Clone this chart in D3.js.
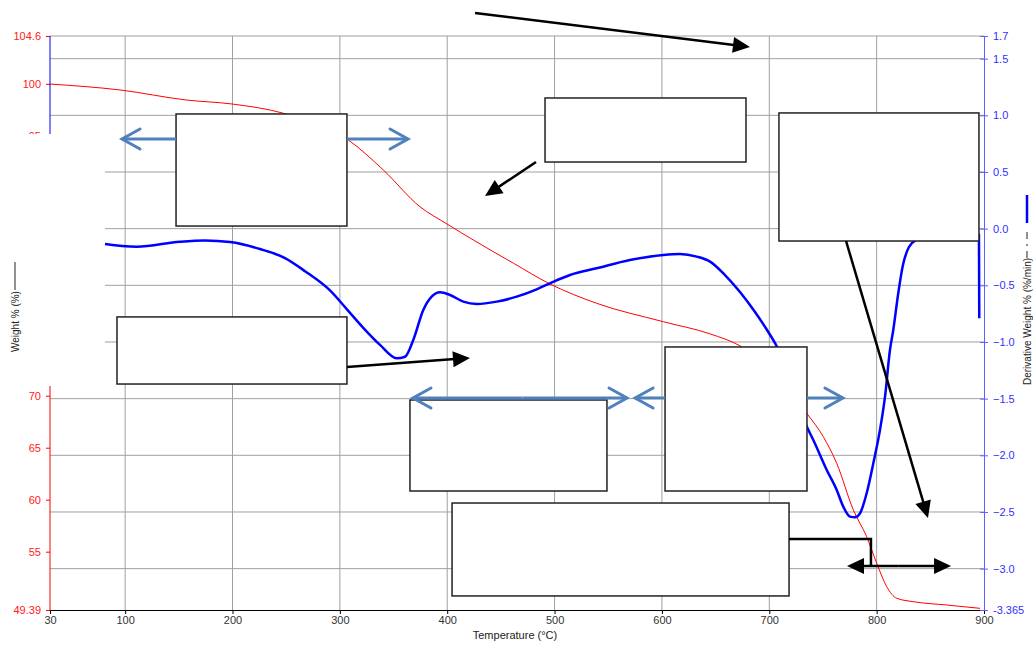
<!DOCTYPE html>
<html>
<head>
<meta charset="utf-8">
<script src="https://cdn.jsdelivr.net/npm/d3@7"></script>
<style>
  body { margin: 0; background: #fff; }
  text { font-family: "Liberation Sans", Arial, sans-serif; }
</style>
</head>
<body>
<div id="chart"></div>
<script>
const width = 1033;
const height = 646;

// weight curve (temperature °C, weight %)
var wTemp = [30, 95.2, 157.3, 199.5, 247.3, 307.9, 340.5, 374.6, 399.8, 424.3, 461.6, 495.7, 539.2, 601.3,
  644.8, 672.7, 705.3, 734.9, 750.3, 762.8, 778.3, 790.7, 800.1, 809.4, 818.7, 834.1, 865.3, 896.3];
var wValue = [99.98, 99.41, 98.44, 98.06, 97.17, 94.6, 91.71, 88.18, 86.52, 84.98, 82.75, 80.75, 78.89, 77.12,
  75.95, 74.8, 72.28, 68.31, 66.06, 63.5, 59.01, 56.44, 53.88, 51.63, 50.52, 50.19, 49.87, 49.55];

// derivative curve (temperature °C, %/min)
var dTemp = [78, 110.8, 151.1, 174.4, 197.7, 225.6, 248.9, 267.5, 290.8, 306.4, 321.8, 337.4, 352.9, 360.7,
  368.4, 377.7, 385.5, 393.3, 402.6, 415, 427.5, 446.1, 464.7, 483.3, 495.7, 514.4, 539.2, 570.2, 601.3,
  616.8, 632.4, 644.8, 658.7, 672.7, 686.7, 697.9, 707.2, 734.9, 741, 753.5, 762.8, 768.9, 775.2, 779.8,
  784.5, 790.7, 796.9, 803.1, 807.8, 812.4, 815.5, 819.9, 824.5, 830.1, 836.7, 849.7, 895.3, 895.6];
var dValue = [-0.13, -0.159, -0.115, -0.104, -0.118, -0.18, -0.26, -0.375, -0.545, -0.71, -0.875, -1.026, -1.144, -1.13,
  -0.982, -0.718, -0.6, -0.562, -0.585, -0.644, -0.665, -0.644, -0.6, -0.535, -0.482, -0.409, -0.35, -0.277, -0.232,
  -0.224, -0.247, -0.291, -0.409, -0.559, -0.735, -0.894, -1.042, -1.747, -1.865, -2.129, -2.306, -2.453, -2.541, -2.547,
  -2.512, -2.335, -2.07, -1.777, -1.483, -1.071, -0.894, -0.585, -0.321, -0.162, -0.1, -0.065, -0.056, -0.79];

var xTicks = [30, 100, 200, 300, 400, 500, 600, 700, 800, 900];
var leftTicks = [104.6, 100, 95, 90, 85, 80, 75, 70, 65, 60, 55, 49.39];
var rightTicks = [1.7, 1.5, 1.0, 0.5, 0.0, -0.5, -1.0, -1.5, -2.0, -2.5, -3.0, -3.365];

// annotation boxes, in temperature / derivative units
var boxes = [
  {t0: 147.4, t1: 306.6, d0: 1.012, d1: 0.023},
  {t0: 491.1, t1: 678.3, d0: 1.153, d1: 0.588},
  {t0: 709, t1: 895.3, d0: 1.021, d1: -0.109},
  {t0: 92.4, t1: 306.6, d0: -0.779, d1: -1.371},
  {t0: 365.3, t1: 548.8, d0: -1.512, d1: -2.315},
  {t0: 602.9, t1: 735.1, d0: -1.044, d1: -2.315},
  {t0: 404.5, t1: 718.4, d0: -2.421, d1: -3.241}
];

// black pointer arrows
var blackArrows = [
  {t0: 425.9, d0: 1.903, t1: 682, d1: 1.603},
  {t0: 482.7, d0: 0.588, t1: 435.2, d1: 0.288},
  {t0: 306.6, d0: -1.221, t1: 421.2, d1: -1.141},
  {t0: 771.5, d0: -0.109, t1: 847.8, d1: -2.553},
  {t0: 820, d0: -2.977, t1: 772.4, d1: -2.977},
  {t0: 820, d0: -2.977, t1: 869.3, d1: -2.977}
];

// blue range arrows (open heads)
var blueArrows = [
  {t0: 147.4, t1: 97.1, d: 0.791},
  {t0: 306.6, t1: 363.5, d: 0.791},
  {t0: 470, t1: 368.1, d: -1.494},
  {t0: 470, t1: 567.5, d: -1.494},
  {t0: 602.9, t1: 575, d: -1.494},
  {t0: 735.1, t1: 768.6, d: -1.494}
];

var svg = d3.select("#chart").append("svg")
  .attr("width", width).attr("height", height);

var x = d3.scaleLinear().domain([30, 900]).range([50, 984]);
var yL = d3.scaleLinear().domain([49.39, 104.6]).range([610, 36]);
var yR = d3.scaleLinear().domain([-3.365, 1.7]).range([610, 36]);

// grid
svg.append("g").selectAll("line").data(rightTicks.slice(0, -1)).enter().append("line")
  .attr("x1", 50).attr("x2", 984)
  .attr("y1", (d) => yR(d)).attr("y2", (d) => yR(d))
  .attr("stroke", "#a0a0a0").attr("stroke-width", 1);
svg.append("g").selectAll("line").data(xTicks.slice(1, -1)).enter().append("line")
  .attr("x1", (d) => x(d)).attr("x2", (d) => x(d))
  .attr("y1", 36).attr("y2", 610)
  .attr("stroke", "#a0a0a0").attr("stroke-width", 1);

// curves
var wLine = d3.line().x((d, i) => x(wTemp[i])).y((d) => yL(d)).curve(d3.curveMonotoneX);
var dLine = d3.line().x((d, i) => x(dTemp[i])).y((d) => yR(d)).curve(d3.curveMonotoneX);

svg.append("path").datum(wValue).attr("d", wLine)
  .attr("fill", "none").attr("stroke", "#ff0000").attr("stroke-width", 1);
svg.append("path").datum(dValue).attr("d", dLine)
  .attr("fill", "none").attr("stroke", "#0000ff").attr("stroke-width", 2.5);

// bottom axis
var xAxis = svg.append("g").attr("transform", "translate(0,610)")
  .call(d3.axisBottom(x).tickValues(xTicks).tickSize(4).tickFormat(d3.format("d")));
xAxis.select(".domain").attr("stroke", "#000");
xAxis.selectAll("text").attr("fill", "#333").attr("font-size", 11).attr("dy", "0.6em");
svg.append("text").attr("x", 515).attr("y", 639).attr("text-anchor", "middle")
  .attr("font-size", 11).attr("fill", "#222").text("Temperature (°C)");

// left axis: red line below, blue line above the patch
var lAxis = svg.append("g").attr("transform", "translate(50,0)")
  .call(d3.axisLeft(yL).tickValues(leftTicks).tickSize(4).tickFormat((d) => String(d)));
lAxis.select(".domain").attr("stroke", "none");
lAxis.selectAll(".tick line").attr("stroke", "#ff0000");
lAxis.selectAll("text").attr("fill", "#ff2020").attr("font-size", 11).attr("x", -9);
svg.append("line").attr("x1", 50).attr("x2", 50).attr("y1", 36).attr("y2", 134)
  .attr("stroke", "#0000ff").attr("stroke-width", 1);
svg.append("line").attr("x1", 50).attr("x2", 50).attr("y1", 386).attr("y2", 610)
  .attr("stroke", "#ff0000").attr("stroke-width", 1);

// right axis
var rAxis = svg.append("g").attr("transform", "translate(984,0)")
  .call(d3.axisRight(yR).tickValues(rightTicks).tickSize(4)
    .tickFormat((d) => d === 1.7 || d === -3.365 ? String(d) : d3.format(".1f")(d)));
rAxis.select(".domain").attr("stroke", "#6060ff");
rAxis.selectAll(".tick line").attr("stroke", "#6060ff").attr("x1", -4);
rAxis.selectAll("text").attr("fill", "#3030ff").attr("font-size", 11).attr("x", 9);

// white patch over the left part of the plot
svg.append("rect").attr("x", 0).attr("y", 134).attr("width", 105).attr("height", 252)
  .attr("fill", "#fff");

// axis titles
svg.append("text").attr("transform", "translate(19,352) rotate(-90)")
  .attr("font-size", 10).attr("fill", "#222").text("Weight % (%)");
svg.append("line").attr("x1", 15).attr("x2", 15).attr("y1", 262).attr("y2", 290)
  .attr("stroke", "#222").attr("stroke-width", 1);

svg.append("text").attr("transform", "translate(1031,385) rotate(-90)")
  .attr("font-size", 10).attr("fill", "#222").text("Derivative Weight % (%/min)");
svg.append("line").attr("x1", 1027).attr("x2", 1027).attr("y1", 258).attr("y2", 230)
  .attr("stroke", "#222").attr("stroke-width", 1).attr("stroke-dasharray", "7,5,2,5,7");
svg.append("line").attr("x1", 1027).attr("x2", 1027).attr("y1", 223).attr("y2", 195)
  .attr("stroke", "#0000ff").attr("stroke-width", 2.5);

// annotation boxes
svg.append("g").selectAll("rect").data(boxes).enter().append("rect")
  .attr("x", (d) => x(d.t0)).attr("y", (d) => yR(d.d0))
  .attr("width", (d) => x(d.t1) - x(d.t0)).attr("height", (d) => yR(d.d1) - yR(d.d0))
  .attr("fill", "#fff").attr("stroke", "#222").attr("stroke-width", 1.5);

// elbow connector from the bottom box
svg.append("path")
  .attr("d", d3.line()([[x(718.4), yR(-2.738)], [x(794.7), yR(-2.738)], [x(794.7), yR(-2.977)]]))
  .attr("fill", "none").attr("stroke", "#000").attr("stroke-width", 2.5);

function headPoints(x1, y1, x2, y2, len, half) {
  var a = Math.atan2(y2 - y1, x2 - x1);
  var bx = x2 - len * Math.cos(a), by = y2 - len * Math.sin(a);
  var px = -Math.sin(a) * half, py = Math.cos(a) * half;
  return [[bx + px, by + py], [x2, y2], [bx - px, by - py]];
}

var ga = svg.append("g");
blackArrows.forEach(function (d) {
  var x1 = x(d.t0), y1 = yR(d.d0), x2 = x(d.t1), y2 = yR(d.d1);
  var h = headPoints(x1, y1, x2, y2, 17, 8);
  var a = Math.atan2(y2 - y1, x2 - x1);
  ga.append("line").attr("x1", x1).attr("y1", y1)
    .attr("x2", x2 - 12 * Math.cos(a)).attr("y2", y2 - 12 * Math.sin(a))
    .attr("stroke", "#000").attr("stroke-width", 2.5);
  ga.append("path").attr("d", d3.line()(h) + "Z").attr("fill", "#000");
});

var gb = svg.append("g");
blueArrows.forEach(function (d) {
  var x1 = x(d.t0), x2 = x(d.t1), y0 = yR(d.d);
  var h = headPoints(x1, y0, x2, y0, 18, 10);
  gb.append("line").attr("x1", x1).attr("y1", y0).attr("x2", x2).attr("y2", y0)
    .attr("stroke", "#4f81bd").attr("stroke-width", 3);
  gb.append("path").attr("d", d3.line()(h))
    .attr("fill", "none").attr("stroke", "#4f81bd").attr("stroke-width", 3)
    .attr("stroke-linecap", "round").attr("stroke-linejoin", "miter");
});
</script>
</body>
</html>
